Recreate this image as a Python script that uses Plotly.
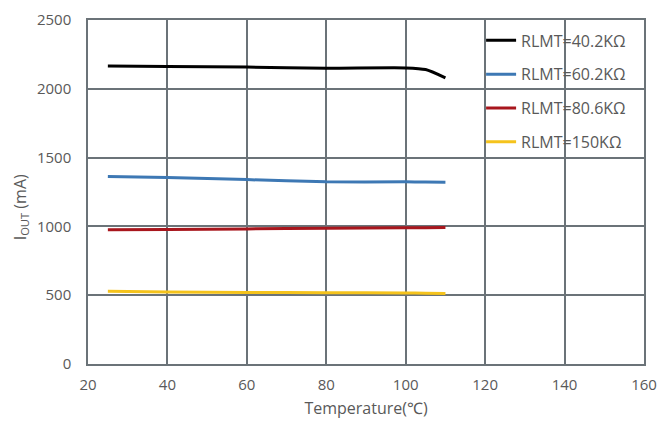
import plotly.graph_objects as go

temps = [25, 40, 60, 80, 100, 105, 110]
rlmt_40_2 = [2165, 2162, 2158, 2150, 2152, 2140, 2080]
rlmt_60_2 = [1363, 1356, 1340, 1324, 1324, 1322, 1321]
rlmt_80_6 = [976, 978, 982, 986, 990, 991, 992]
rlmt_150 = [528, 524, 520, 518, 516, 514, 512]

names = ["RLMT=40.2KΩ", "RLMT=60.2KΩ", "RLMT=80.6KΩ", "RLMT=150KΩ"]
colors = ["#000000", "#3d78b4", "#a8161d", "#f5c31c"]
series = [rlmt_40_2, rlmt_60_2, rlmt_80_6, rlmt_150]
y_title = "I<sub>OUT</sub> (mA)"
x_title = "Temperature(℃)"

fig = go.Figure()
for i, (n, c, s) in enumerate(zip(names, colors, series)):
    fig.add_trace(go.Scatter(x=temps, y=s, mode="lines", name=n,
                             line=dict(color=c, width=3, shape="spline", smoothing=0.6),
                             legendgroup=str(i)))

font_c = "#595959"
grid_c = "#6b7378"
fig.update_layout(
    width=662, height=425,
    margin=dict(l=88, r=18, t=20, b=61, autoexpand=False),
    paper_bgcolor="white", plot_bgcolor="white",
    font=dict(family="Open Sans, Noto Sans, sans-serif", size=15, color=font_c),
    showlegend=True,
    legend=dict(x=0.707, y=0.99, xanchor="left", yanchor="top",
                bgcolor="rgba(0,0,0,0)", font=dict(size=16, color=font_c),
                tracegroupgap=10, traceorder="grouped"),
    xaxis=dict(range=[20, 160], dtick=20, tick0=20, showgrid=True, gridcolor=grid_c,
               gridwidth=1.5, showline=True, linecolor=grid_c, linewidth=1.5, mirror=True,
               zeroline=False, ticks="", tickfont=dict(size=15, color=font_c),
               ticklabelstandoff=6, automargin=False, ticklabeloverflow="allow",
               title=dict(text=x_title, font=dict(size=16, color=font_c), standoff=10)),
    yaxis=dict(range=[0, 2500], dtick=500, showgrid=True, gridcolor=grid_c,
               gridwidth=1.5, showline=True, linecolor=grid_c, linewidth=1.5, mirror=True,
               zeroline=False, ticks="", tickfont=dict(size=15, color=font_c),
               ticklabelstandoff=12, automargin=False),
    annotations=[dict(text=y_title, textangle=-90, xref="paper", yref="paper",
                      x=-0.122, y=0.456, xanchor="center", yanchor="middle",
                      showarrow=False, font=dict(size=16, color=font_c))],
)
fig.write_html("out.html", config={"displayModeBar": False},
               post_script="document.body.style.margin='0';document.body.style.overflow='hidden';")
